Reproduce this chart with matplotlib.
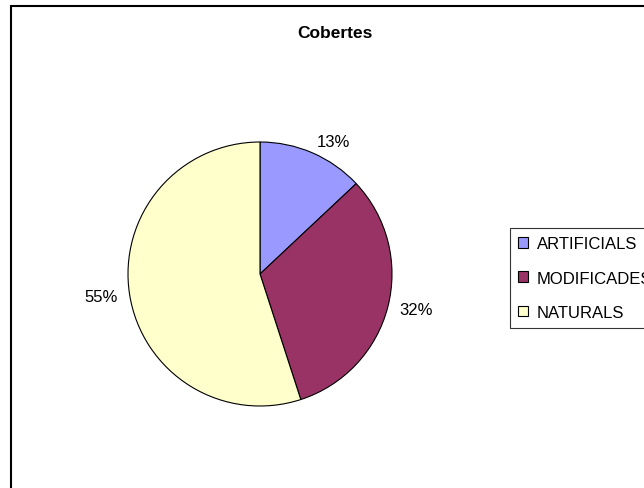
import matplotlib.pyplot as plt
from matplotlib.patches import Rectangle

plt.rcParams['font.family'] = ['Liberation Sans', 'DejaVu Sans']

categories = ['ARTIFICIALS', 'MODIFICADES', 'NATURALS']
shares = [13, 32, 55]
colors = ['#9999FF', '#993366', '#FFFFCC']

fig = plt.figure(figsize=(6.44, 4.89), dpi=100)
W, H = 644, 489

# chart frame, runs off the right and bottom edges like the original
fig.patches.append(Rectangle((11 / W, -0.1), 1.2, 1 - 7 / H + 0.1,
                             transform=fig.transFigure, fill=False,
                             edgecolor='black', linewidth=1.5))

fig.text(335 / W, 1 - 34 / H, 'Cobertes', ha='center', va='center',
         fontsize=12.5, fontweight='bold')

r = 132
ax = fig.add_axes([(260 - r) / W, 1 - (275 + r) / H, 2 * r / W, 2 * r / H])
wedges, texts = ax.pie(shares, colors=colors, startangle=90, counterclock=False,
                       labels=[f'{v}%' for v in shares], labeldistance=1.09,
                       wedgeprops=dict(edgecolor='black', linewidth=0.8),
                       textprops=dict(fontsize=12))
ax.set_xlim(-1, 1)
ax.set_ylim(-1, 1)
ax.set_aspect('equal')

leg = fig.legend(wedges, categories, loc='upper left',
                 bbox_to_anchor=(510 / W, 1 - 229 / H), fontsize=12,
                 frameon=True, fancybox=False, edgecolor='black',
                 handlelength=0.6, handleheight=0.6, handletextpad=0.5,
                 borderpad=0.5, labelspacing=1.15, borderaxespad=0)
leg.get_frame().set_linewidth(0.8)

fig.savefig('out.png', dpi=100)
